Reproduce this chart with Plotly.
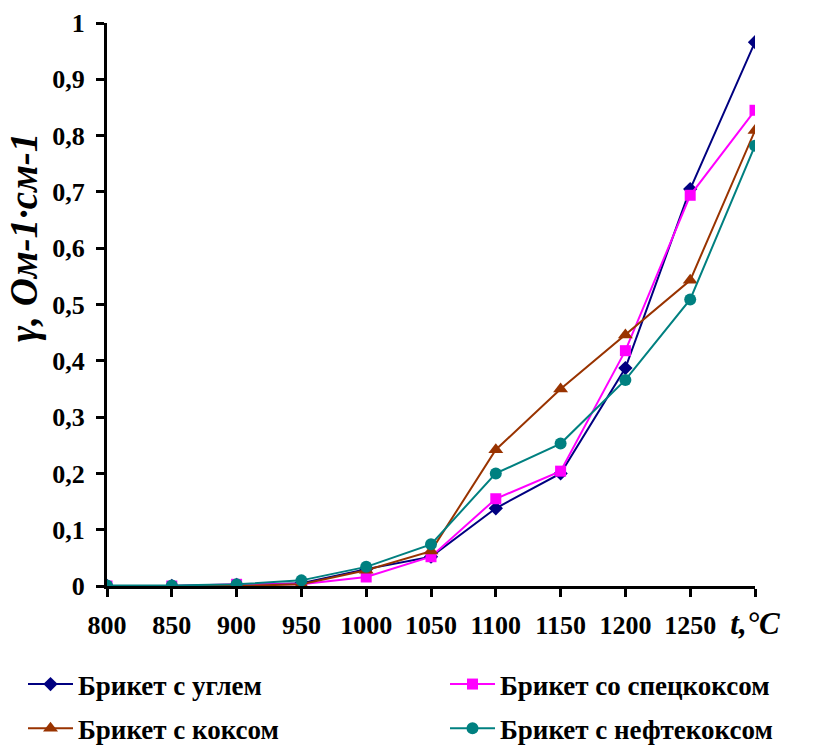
import plotly.graph_objects as go

temps = [800, 850, 900, 950, 1000, 1050, 1100, 1150, 1200, 1250, 1300]
coal = [0.0, 0.0, 0.002, 0.005, 0.030, 0.052, 0.138, 0.200, 0.387, 0.705, 0.966]
spec_coke = [0.0, 0.0, 0.003, 0.003, 0.016, 0.052, 0.155, 0.204, 0.418, 0.694, 0.845]
coke = [0.0, 0.0, 0.0, 0.003, 0.028, 0.062, 0.242, 0.350, 0.446, 0.543, 0.809]
pet_coke = [0.001, 0.001, 0.003, 0.010, 0.034, 0.074, 0.200, 0.253, 0.366, 0.509, 0.782]

names = ["Брикет с углем", "Брикет со спецкоксом", "Брикет с коксом", "Брикет с нефтекоксом"]
x_tick_text = ["800", "850", "900", "950", "1000", "1050", "1100", "1150", "1200", "1250",
               "<i><span style='font-size:31px'>t,°C</span></i>"]
y_tick_vals = [0, 0.1, 0.2, 0.3, 0.4, 0.5, 0.6, 0.7, 0.8, 0.9, 1.0]
y_tick_text = ["0", "0,1", "0,2", "0,3", "0,4", "0,5", "0,6", "0,7", "0,8", "0,9", "1"]
y_title = "γ, Ом-1·см-1"

FONT = "Liberation Serif"

series = [
    (coal, names[0], "#000080", "diamond", 11, "legend"),
    (spec_coke, names[1], "#FF00FF", "square", 11, "legend2"),
    (coke, names[2], "#993300", "triangle-up", 13, "legend"),
    (pet_coke, names[3], "#008080", "circle", 12, "legend2"),
]

fig = go.Figure()
for vals, name, color, sym, size, leg in series:
    fig.add_trace(go.Scatter(
        x=temps, y=vals, name=name, mode="lines+markers",
        line=dict(color=color, width=2),
        marker=dict(symbol=sym, size=size, color=color),
        legend=leg, legendgroup=name,
    ))

W, H = 824, 745
L, R, T, B = 107, 69, 23, 159
pw, ph = W - L - R, H - T - B


def px_x(px):
    return (px - L) / pw


def px_y(py):
    return (T + ph - py) / ph


legend_common = dict(
    orientation="v", yanchor="top", xanchor="left",
    font=dict(family=FONT, size=27, color="black", weight="bold"),
    bgcolor="rgba(0,0,0,0)", tracegroupgap=6, itemwidth=45,
)

fig.update_layout(
    width=W, height=H,
    margin=dict(l=L, r=R, t=T, b=B, autoexpand=False),
    plot_bgcolor="white", paper_bgcolor="white",
    font=dict(family=FONT, color="black"),
    showlegend=True,
    legend=dict(x=px_x(23), y=px_y(660), **legend_common),
    legend2=dict(x=px_x(445), y=px_y(660), **legend_common),
    xaxis=dict(
        range=[800, 1300], tickvals=temps, ticktext=x_tick_text,
        showgrid=False, zeroline=False, automargin=False,
        showline=True, linecolor="black", linewidth=3,
        ticks="outside", ticklen=8, tickwidth=3, tickcolor="black",
        ticklabelstandoff=6,
        tickfont=dict(family=FONT, size=26, color="black", weight="bold"),
    ),
    yaxis=dict(
        range=[0, 1.0], tickvals=y_tick_vals, ticktext=y_tick_text,
        showgrid=False, zeroline=False, automargin=False,
        showline=True, linecolor="black", linewidth=3,
        ticks="outside", ticklen=8, tickwidth=3, tickcolor="black",
        ticklabelstandoff=6,
        tickfont=dict(family=FONT, size=26, color="black", weight="bold"),
    ),
    annotations=[dict(
        text="<i>" + y_title + "</i>", textangle=-90,
        xref="paper", yref="paper",
        x=px_x(24), y=px_y(237),
        xanchor="center", yanchor="middle", showarrow=False,
        font=dict(family=FONT, size=39, color="black", weight="bold"),
    )],
)

fig.write_html("out.html", config={"displayModeBar": False},
               post_script="document.body.style.margin='0';")
